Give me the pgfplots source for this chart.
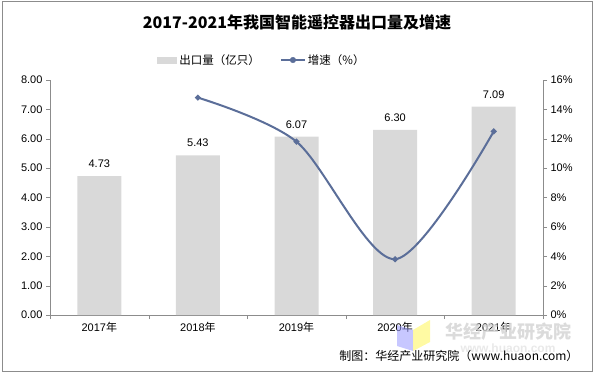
\documentclass[border=0pt]{standalone}
\usepackage{fontspec}
\usepackage{pgfplots}
\pgfplotsset{compat=1.18}
\setmainfont{Liberation Sans}
\newfontfamily\cjk{Noto Sans CJK SC}
\definecolor{barc}{HTML}{D9D9D9}
\definecolor{linec}{HTML}{5B6E99}
\definecolor{axc}{HTML}{8C8C8C}
\begin{document}
\begin{tikzpicture}
\path (0pt,0pt) rectangle (597pt,375pt);
\draw[axc, line width=1pt] (2pt,4pt) rectangle (592pt,373pt);
\node[font=\cjk\bfseries\fontsize{16}{18}\selectfont] at (297pt,353pt) {2017-2021年我国智能遥控器出口量及增速};
\begin{axis}[at={(50pt,60pt)}, anchor=south west, scale only axis, width=493pt, height=235pt,
  xmin=-0.5, xmax=4.5, ymin=0, ymax=8, ytick={0,1,...,8},
  axis y line*=left, axis x line*=bottom,
  axis line style={axc}, tick style={axc},
  tick align=outside, major tick length=4pt,
  xtick={0,1,2,3,4}, xticklabels={2017{\cjk 年},2018{\cjk 年},2019{\cjk 年},2020{\cjk 年},2021{\cjk 年}},
  x tick style={draw=none},
  minor xtick={-0.5,0.5,1.5,2.5,3.5,4.5},
  minor x tick style={axc, draw=axc}, minor tick length=4pt,
  /pgf/number format/assume math mode=true,
  yticklabel style={/pgf/number format/.cd, fixed, fixed zerofill, precision=2},
  ticklabel style={font=\fontsize{11}{13}\selectfont},
  ybar, bar width=44pt,
  nodes near coords, every node near coord/.append style={font=\fontsize{11}{13}\selectfont, yshift=5pt, /pgf/number format/.cd, fixed, fixed zerofill, precision=2},
  legend columns=2,
  legend style={at={(0.43,1.085)}, anchor=center, draw=none, fill=none, font=\cjk\fontsize{11.5}{13}\selectfont, /tikz/every even column/.append style={column sep=18pt}},
  clip=false]
\addplot[fill=barc, draw=none, legend image code/.code={\fill[barc] (0pt,-3.5pt) rectangle (20pt,3.5pt);}] coordinates {(0,4.73) (1,5.43) (2,6.07) (3,6.30) (4,7.09)};
\addlegendentry{出口量（亿只）}
\addlegendimage{legend image code/.code={\draw[linec, line width=2pt] (0pt,0pt) -- (24pt,0pt); \fill[linec] (12pt,0pt) circle (2.8pt);}}
\addlegendentry{增速（\%）}
\end{axis}
\begin{axis}[at={(50pt,60pt)}, anchor=south west, scale only axis, width=493pt, height=235pt,
  xmin=-0.5, xmax=4.5, ymin=0, ymax=16, ytick={0,2,...,16},
  axis y line*=right, axis x line=none,
  axis line style={axc}, tick style={axc},
  tick align=outside, major tick length=4pt,
  /pgf/number format/assume math mode=true,
  yticklabel={\pgfmathprintnumber{\tick}\%},
  ticklabel style={font=\fontsize{11}{13}\selectfont},
  clip=false]
\addplot[linec, line width=2pt, smooth, mark=*, mark options={fill=linec, scale=0.9}] coordinates {(1,14.8) (2,11.8) (3,3.8) (4,12.5)};
\end{axis}
% watermark
\fill[blue!40, opacity=0.55] (397pt,50pt) -- (413pt,45pt) -- (413pt,24pt) -- (397pt,29pt) -- cycle;
\fill[yellow!45, opacity=0.8] (413pt,45pt) -- (430pt,55pt) -- (430pt,33pt) -- (413pt,24pt) -- cycle;
\node[font=\cjk\bfseries\fontsize{18}{20}\selectfont, text=gray!35, opacity=0.8] at (508pt,43pt) {华经产业研究院};
\node[font=\bfseries\fontsize{12}{14}\selectfont, text=gray!25, opacity=0.7] at (508pt,27pt) {www.huaon.com};
\node[font=\cjk\fontsize{12}{14}\selectfont, anchor=east] at (582pt,19pt) {制图：华经产业研究院（www.huaon.com）};
\end{tikzpicture}
\end{document}
